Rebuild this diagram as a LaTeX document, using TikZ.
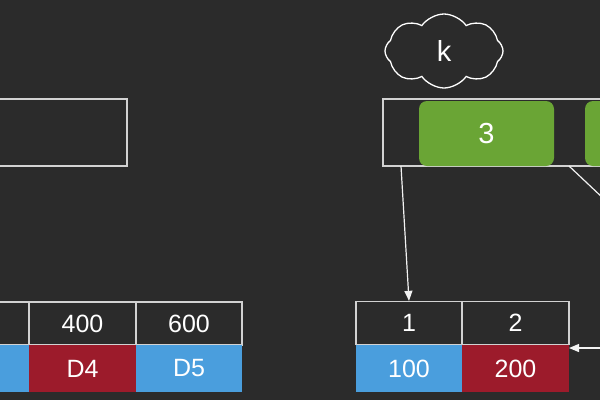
\documentclass[tikz,border=0pt]{standalone}
\usepackage{fontspec}
\setmainfont{Liberation Sans}
\usetikzlibrary{shapes.symbols,arrows.meta}
\definecolor{bg}{HTML}{2B2B2B}
\definecolor{ln}{HTML}{D2D2D2}
\definecolor{cblue}{HTML}{4A9EDD}
\definecolor{cred}{HTML}{9C1B2B}
\definecolor{cgreen}{HTML}{6AA535}
\tikzset{
  cell/.style={draw=ln, line width=1.3pt, minimum width=#1, minimum height=43pt, inner sep=0pt, text=white, font=\fontsize{25}{25}\selectfont},
  cell/.default=106pt,
  dcell/.style={minimum height=47pt, inner sep=0pt, text=white, font=\fontsize{25}{25}\selectfont, fill=#1},
  keybox/.style={fill=cgreen, rounded corners=8pt, minimum height=65pt, inner sep=0pt, text=white, font=\fontsize{29}{29}\selectfont},
  frame/.style={draw=ln, line width=1.5pt, minimum height=67pt, inner sep=0pt},
  link/.style={draw=white!90!gray, line width=1.2pt},
  arr/.style={link, -{Triangle[length=10pt,width=8pt]}},
}
\begin{document}
\begin{tikzpicture}[x=1pt,y=-1pt]
\fill[bg] (0,0) rectangle (600,400);
\useasboundingbox (0,0) rectangle (600,400);
% upper left box
\node[frame, minimum width=147pt] (lb) at (53.5,132.5) {};
% cloud
\node[cloud, draw=white, line width=1.3pt, cloud puffs=8, cloud puff arc=110, cloud ignores aspect, minimum width=118pt, minimum height=74pt, text=white, font=\fontsize{29}{29}\selectfont] (cl) at (444,51) {k};
% upper right node
\node[frame, minimum width=237pt] (rb) at (501.5,132.5) {};
\node[keybox, minimum width=135pt] (g1) at (486.5,133.5) {3};
\node[keybox, minimum width=70pt] (g2) at (620,133.5) {};
% bottom left table
\node[cell=109pt] (l0) at (-25.5,323.5) {};
\node[cell=107pt] (l1) at (82.5,323.5) {400};
\node[cell=106pt] (l2) at (189,323.5) {600};
\node[dcell=cblue, minimum width=109pt] (m0) at (-25.5,368.5) {};
\node[dcell=cred, minimum width=107pt] (m1) at (82.5,368.5) {D4};
\node[dcell=cblue, minimum width=106pt] (m2) at (189,368.5) {D5};
% bottom right table
\node[cell=106pt] (r1) at (409,323) {1};
\node[cell=107pt] (r2) at (515.5,323) {2};
\node[dcell=cblue, minimum width=106pt] (s1) at (409,368.5) {100};
\node[dcell=cred, minimum width=107pt] (s2) at (515.5,368.5) {200};
% connectors
\coordinate (p1) at (401,166);
\draw[arr] (p1) -- (r1.north);
\coordinate (p2) at (569,166);
\coordinate (p3) at (622,216);
\draw[link] (p2) -- (p3);
\coordinate (p4) at (610,348);
\coordinate (p5) at (569,348);
\draw[arr] (p4) -- (p5);
\end{tikzpicture}
\end{document}
